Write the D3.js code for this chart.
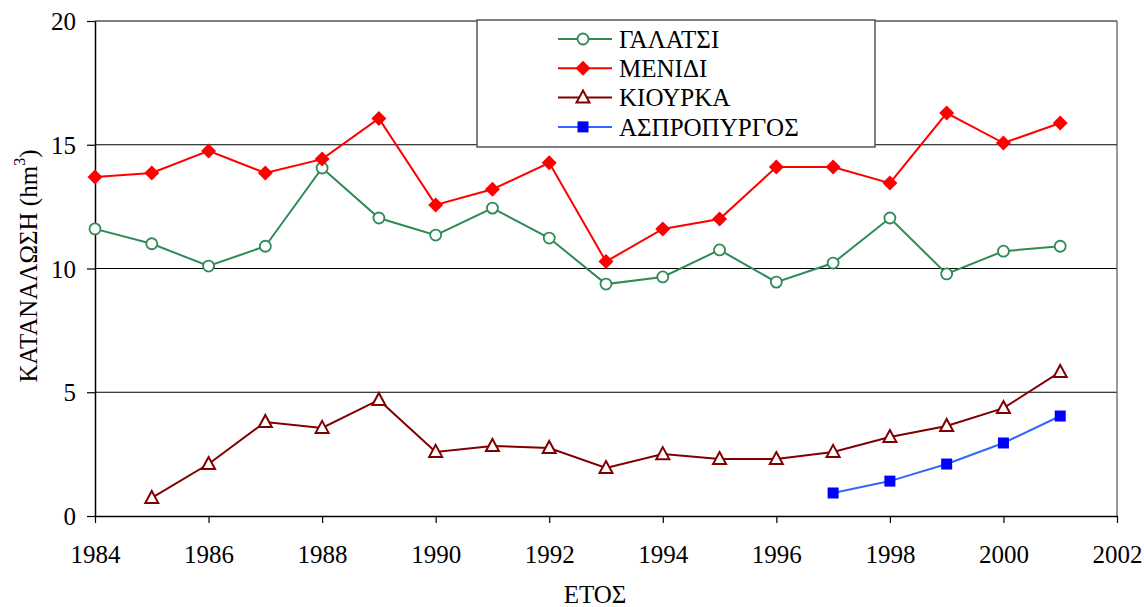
<!DOCTYPE html>
<html><head><meta charset="utf-8">
<script src="https://cdn.jsdelivr.net/npm/d3@7"></script>
<style>body{margin:0;background:#fff}svg{display:block}</style>
</head><body>
<svg id="c" width="1144" height="607" font-family="Liberation Serif"></svg>
<script>
const years = d3.range(1984, 2002);
const galatsi = [11.6,11.0,10.1,10.9,14.06,12.04,11.35,12.44,11.23,9.37,9.66,10.75,9.45,10.22,12.04,9.78,10.7,10.9];
const menidi = [13.7,13.86,14.75,13.86,14.42,16.06,12.57,13.2,14.27,10.28,11.6,12.0,14.1,14.1,13.45,16.28,15.07,15.88];
const kiourkaYears = d3.range(1985, 2002);
const kiourka = [0.73,2.1,3.8,3.56,4.69,2.59,2.83,2.75,1.94,2.5,2.3,2.3,2.59,3.19,3.64,4.36,5.82];
const aspYears = [1997,1998,1999,2000,2001];
const aspropyrgos = [0.93,1.41,2.1,2.95,4.04];
const xTicks = [1984,1986,1988,1990,1992,1994,1996,1998,2000,2002];
const yTicks = [0,5,10,15,20];
const names = ["ΓΑΛΑΤΣΙ","ΜΕΝΙΔΙ","ΚΙΟΥΡΚΑ","ΑΣΠΡΟΠΥΡΓΟΣ"];

const FONT = "Liberation Serif";
const FS = 25;
const svg = d3.select("#c");
const L=95,R=1117,T=21,B=516;
const x = d3.scaleLinear().domain([1984,2002]).range([L,R]);
const y = d3.scaleLinear().domain([0,20]).range([B,T]);

// gridlines
svg.append("g").selectAll("line").data(yTicks.filter(d=>d>0)).join("line")
  .attr("x1",L).attr("x2",R).attr("y1",d=>y(d)).attr("y2",d=>y(d))
  .attr("stroke","#000").attr("stroke-width",1.2);
// right border
svg.append("line").attr("x1",R).attr("x2",R).attr("y1",T).attr("y2",B).attr("stroke","#555").attr("stroke-width",1.2);

// axes
const yAx = svg.append("g").attr("transform",`translate(${L},0)`)
  .call(d3.axisLeft(y).tickValues(yTicks).tickSize(8).tickSizeOuter(0));
const xAx = svg.append("g").attr("transform",`translate(0,${B})`)
  .call(d3.axisBottom(x).tickValues(xTicks).tickFormat(d3.format("d")).tickSize(7).tickSizeOuter(0));
[yAx,xAx].forEach(g=>{
  g.attr("font-family",FONT).attr("font-size",FS);
  g.select(".domain").attr("stroke","#000").attr("stroke-width",1.5);
  g.selectAll(".tick line").attr("stroke","#000").attr("stroke-width",1.2);
  g.selectAll("text").attr("font-size",FS).attr("font-family",FONT).attr("fill","#000");
});
yAx.selectAll("text").attr("x",-19).attr("dy","0.34em");
xAx.selectAll("text").attr("y",47).attr("dy",0);

const line = d3.line().x(d=>x(d[0])).y(d=>y(d[1]));
const series = [
  {n:names[0], xs:years, v:galatsi, c:"#2e8b57", lc:"#2e8b57", m:"circle"},
  {n:names[1], xs:years, v:menidi, c:"#ff0000", lc:"#ff0000", m:"diamond"},
  {n:names[2], xs:kiourkaYears, v:kiourka, c:"#800000", lc:"#800000", m:"triangle"},
  {n:names[3], xs:aspYears, v:aspropyrgos, c:"#0000ff", lc:"#3366ff", m:"square"}
];
function marker(g, s, cx, cy){
  if(s.m==="circle") g.append("circle").attr("cx",cx).attr("cy",cy).attr("r",5.5).attr("fill","#fff").attr("stroke",s.c).attr("stroke-width",1.8);
  else if(s.m==="diamond") g.append("path").attr("d",`M${cx},${cy-7.5}L${cx+7.5},${cy}L${cx},${cy+7.5}L${cx-7.5},${cy}Z`).attr("fill",s.c);
  else if(s.m==="triangle") g.append("path").attr("d",`M${cx},${cy-7}L${cx+6.5},${cy+5}L${cx-6.5},${cy+5}Z`).attr("fill","#fff").attr("stroke",s.c).attr("stroke-width",2);
  else g.append("rect").attr("x",cx-5.5).attr("y",cy-5.5).attr("width",11).attr("height",11).attr("fill",s.c);
}
series.forEach(s=>{
  const pts = s.xs.map((yr,i)=>[yr,s.v[i]]);
  svg.append("path").datum(pts).attr("d",line).attr("fill","none").attr("stroke",s.lc).attr("stroke-width",2);
  const g = svg.append("g");
  pts.forEach(p=>marker(g,s,x(p[0]),y(p[1])));
});

// legend
const lg = svg.append("g");
lg.append("rect").attr("x",477).attr("y",20).attr("width",398).attr("height",127).attr("fill","#fff").attr("stroke","#555").attr("stroke-width",1.5);
series.forEach((s,i)=>{
  const cy = 39 + i*29.3;
  lg.append("line").attr("x1",558).attr("x2",612).attr("y1",cy).attr("y2",cy).attr("stroke",s.lc).attr("stroke-width",2);
  marker(lg,s,583,cy);
  lg.append("text").attr("x",619).attr("y",cy).attr("dy","0.35em").attr("font-size",FS).attr("font-family",FONT).attr("fill","#000").text(s.n);
});

// axis titles
svg.append("text").attr("x",595).attr("y",603).attr("text-anchor","middle").attr("font-size",FS).attr("font-family",FONT).attr("fill","#000").text("ΕΤΟΣ");
const yt = svg.append("text").attr("transform",`translate(37,266) rotate(-90)`).attr("text-anchor","middle").attr("font-size",FS).attr("font-family",FONT).attr("fill","#000");
yt.append("tspan").text("ΚΑΤΑΝΑΛΩΣΗ (hm");
yt.append("tspan").attr("font-size",16).attr("dy",-12).text("3");
yt.append("tspan").attr("dy",12).text(")");
</script>
</body></html>
